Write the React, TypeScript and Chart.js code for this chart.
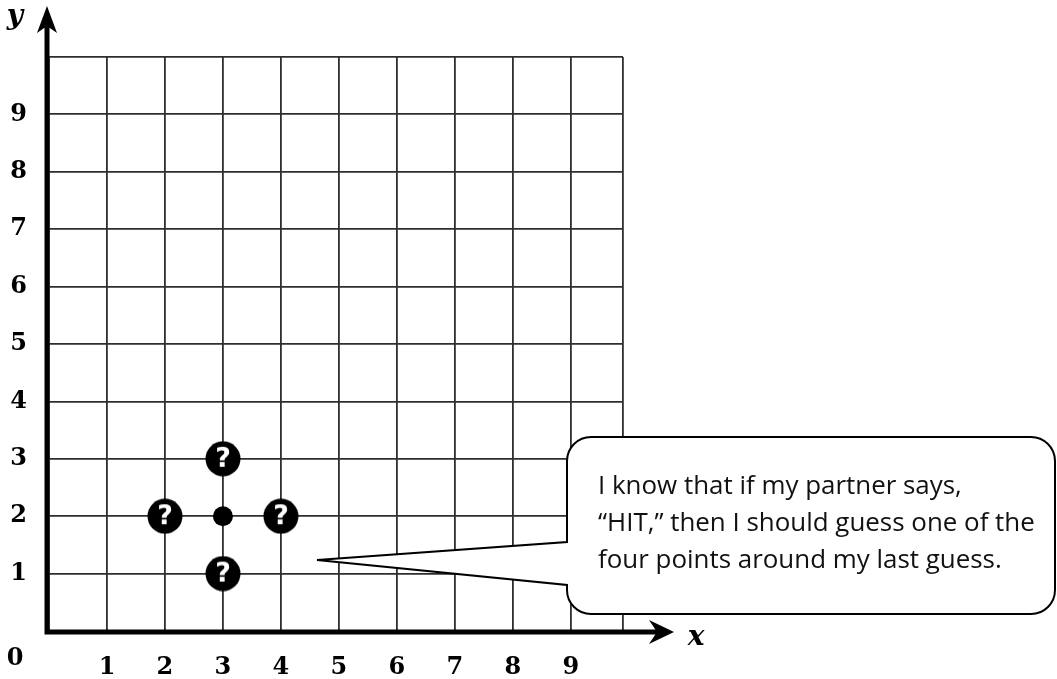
import React, { useEffect, useRef } from "react";
import { Chart, registerables } from "chart.js";

Chart.register(...registerables);

// ---- data ----
const X_TICKS = [0, 1, 2, 3, 4, 5, 6, 7, 8, 9];
const X_EDGE = 9.9;
const Y_TICKS = [0, 1, 2, 3, 4, 5, 6, 7, 8, 9, 10];
const X_LABELS = ["1", "2", "3", "4", "5", "6", "7", "8", "9"];
const Y_LABELS = ["1", "2", "3", "4", "5", "6", "7", "8", "9"];
const GUESS_X = [3, 2, 4, 3];
const GUESS_Y = [3, 2, 2, 1];
const LAST_X = [3];
const LAST_Y = [2];
const BUBBLE_LINES = [
  "I know that if my partner says,",
  "\u201CHIT,\u201D then I should guess one of the",
  "four points around my last guess.",
];

const GRID_COLOR = "#2e2e2e";
const TICK_FONT = { family: "DejaVu Serif", weight: "bold" as const, size: 24 };

function makeMarker(): HTMLCanvasElement {
  const c = document.createElement("canvas");
  c.width = 36;
  c.height = 36;
  const g = c.getContext("2d")!;
  g.fillStyle = "#000";
  g.beginPath();
  g.arc(18, 18, 17.5, 0, Math.PI * 2);
  g.fill();
  g.fillStyle = "#fff";
  g.font = 'bold 27px "DejaVu Sans"';
  g.textAlign = "center";
  g.textBaseline = "middle";
  g.fillText("?", 18, 19);
  return c;
}

const decorPlugin = {
  id: "decor",
  afterDraw(chart: any) {
    const ctx = chart.ctx as CanvasRenderingContext2D;
    const xs = chart.scales.x;
    const ys = chart.scales.y;
    const ax = xs.left - 2;
    const ay = ys.bottom + 1;
    ctx.save();
    // axes
    ctx.strokeStyle = "#000";
    ctx.fillStyle = "#000";
    ctx.lineWidth = 5;
    ctx.lineCap = "butt";
    ctx.beginPath();
    ctx.moveTo(ax, ay + 2.5);
    ctx.lineTo(ax, 24);
    ctx.moveTo(ax - 2.5, ay);
    ctx.lineTo(xs.right + 38, ay);
    ctx.stroke();
    // y arrow
    ctx.beginPath();
    ctx.moveTo(ax, 6);
    ctx.lineTo(ax + 10, 33);
    ctx.lineTo(ax, 26);
    ctx.lineTo(ax - 10, 33);
    ctx.closePath();
    ctx.fill();
    // x arrow
    const tx = xs.right + 51;
    ctx.beginPath();
    ctx.moveTo(tx, ay);
    ctx.lineTo(tx - 25, ay - 12);
    ctx.lineTo(tx - 17, ay);
    ctx.lineTo(tx - 25, ay + 12);
    ctx.closePath();
    ctx.fill();
    // axis names
    ctx.font = 'italic bold 28px "DejaVu Serif"';
    ctx.textAlign = "center";
    ctx.textBaseline = "middle";
    ctx.fillText("y", 15, 17);
    ctx.fillText("x", 696, 638);
    ctx.font = 'bold 24px "DejaVu Serif"';
    ctx.fillText("0", 15, 659);

    // speech bubble
    const L = 567, R = 1055, T = 437, B = 614, r = 24;
    const tipX = 317, tipY = 560, p1 = 542, p2 = 585;
    ctx.beginPath();
    ctx.moveTo(L + r, T);
    ctx.arcTo(R, T, R, B, r);
    ctx.arcTo(R, B, L, B, r);
    ctx.arcTo(L, B, L, T, r);
    ctx.lineTo(L, p2);
    ctx.lineTo(tipX, tipY);
    ctx.lineTo(L, p1);
    ctx.arcTo(L, T, R, T, r);
    ctx.closePath();
    ctx.fillStyle = "#fff";
    ctx.fill();
    ctx.lineWidth = 2;
    ctx.strokeStyle = "#000";
    ctx.lineJoin = "miter";
    ctx.stroke();

    ctx.fillStyle = "#111";
    ctx.textAlign = "left";
    ctx.textBaseline = "alphabetic";
    ctx.font = '20px "Open Sans"';
    const w = ctx.measureText(BUBBLE_LINES[1]).width;
    const size = (20 * 437) / w;
    ctx.font = `${size.toFixed(2)}px "Open Sans"`;
    BUBBLE_LINES.forEach((line, i) => {
      ctx.fillText(line, 598, 494 + i * 37);
    });
    ctx.restore();
  },
};

export default function App() {
  const ref = useRef<HTMLCanvasElement>(null);
  useEffect(() => {
    document.body.style.margin = "0";
    const marker = makeMarker();
    const chart = new Chart(ref.current!, {
      type: "scatter",
      data: {
        datasets: [
          {
            label: "guesses",
            data: GUESS_X.map((x, i) => ({ x, y: GUESS_Y[i] })),
            pointStyle: marker as any,
            pointRadius: 17,
            backgroundColor: "#000",
            borderColor: "#000",
          },
          {
            label: "last",
            data: LAST_X.map((x, i) => ({ x, y: LAST_Y[i] })),
            pointStyle: "circle",
            pointRadius: 10,
            backgroundColor: "#000",
            borderColor: "#000",
            borderWidth: 0,
          },
        ],
      },
      options: {
        animation: false,
        responsive: false,
        devicePixelRatio: 1,
        layout: { padding: { left: 0, top: 57, right: 434, bottom: 0 } },
        plugins: { legend: { display: false }, tooltip: { enabled: false } },
        events: [],
        scales: {
          x: {
            type: "linear",
            min: 0,
            max: X_EDGE,
            afterBuildTicks: (s: any) => {
              s.ticks = [...X_TICKS, X_EDGE].map((v) => ({ value: v }));
            },
            afterFit: (s: any) => {
              s.height = 48;
            },
            grid: { color: GRID_COLOR, lineWidth: 1.8, drawTicks: false },
            border: { display: false },
            ticks: {
              autoSkip: false,
              maxRotation: 0,
              padding: 22,
              color: "#000",
              font: TICK_FONT,
              callback: (v: any) => {
                const i = X_TICKS.indexOf(Number(v));
                return i >= 1 ? X_LABELS[i - 1] : "";
              },
            },
          },
          y: {
            type: "linear",
            min: 0,
            max: 10,
            afterBuildTicks: (s: any) => {
              s.ticks = Y_TICKS.map((v) => ({ value: v }));
            },
            afterFit: (s: any) => {
              s.width = 49;
            },
            grid: { color: GRID_COLOR, lineWidth: 1.8, drawTicks: false },
            border: { display: false },
            ticks: {
              autoSkip: false,
              padding: 22,
              color: "#000",
              font: TICK_FONT,
              callback: (v: any) => {
                const n = Number(v);
                return n >= 1 && n <= 9 ? Y_LABELS[n - 1] : "";
              },
            },
          },
        },
      },
      plugins: [decorPlugin],
    });
    return () => chart.destroy();
  }, []);
  return (
    <canvas
      ref={ref}
      width={1057}
      height={679}
      style={{ position: "fixed", left: 0, top: 0, width: 1057, height: 679 }}
    />
  );
}
